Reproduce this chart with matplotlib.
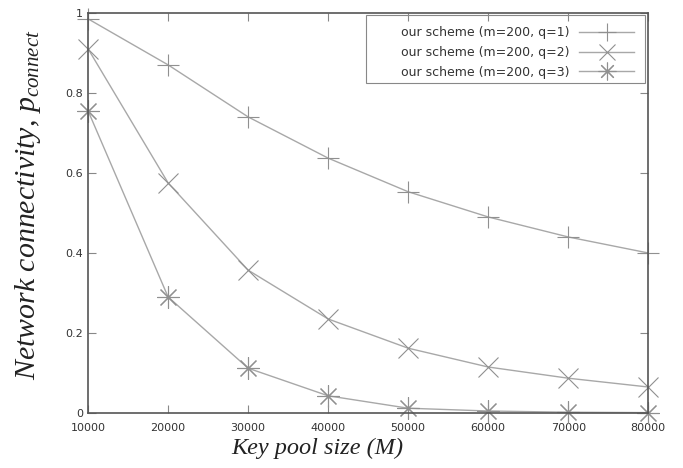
import numpy as np
import matplotlib.pyplot as plt
from matplotlib.patches import Rectangle

plt.rcParams["mathtext.fontset"] = "custom"
plt.rcParams["mathtext.it"] = "Liberation Serif:italic"
plt.rcParams["mathtext.rm"] = "Liberation Serif"

# Key pool sizes and connectivity values
pool_size = [10000, 20000, 30000, 40000, 50000, 60000, 70000, 80000]
q1 = [0.985, 0.87, 0.74, 0.637, 0.553, 0.49, 0.44, 0.40]
q2 = [0.91, 0.575, 0.357, 0.235, 0.162, 0.115, 0.087, 0.065]
q3 = [0.755, 0.29, 0.112, 0.043, 0.012, 0.005, 0.002, 0.001]

labels = ["our scheme (m=200, q=1)",
          "our scheme (m=200, q=2)",
          "our scheme (m=200, q=3)"]

fig = plt.figure(figsize=(6.83, 4.68), dpi=100)
ax = fig.add_axes([0.129, 0.1175, 0.820, 0.855])

line_col = "#a8a8a8"
mk_col = "#909090"
ax.plot(pool_size, q1, color=line_col, lw=1.0, marker="+", ms=16,
        mew=0.8, mec=mk_col, label=labels[0], clip_on=False)
ax.plot(pool_size, q2, color=line_col, lw=1.0, marker="x", ms=14,
        mew=0.8, mec=mk_col, label=labels[1], clip_on=False)
ax.plot(pool_size, q3, color=line_col, lw=1.0, marker=(8, 2, 0), ms=16,
        mew=0.8, mec=mk_col, label=labels[2], clip_on=False)

ax.set_xlim(10000, 80000)
ax.set_ylim(0, 1)
ax.set_xticks(pool_size)
ax.set_yticks([0, 0.2, 0.4, 0.6, 0.8, 1])
ax.set_yticklabels(["0", "0.2", "0.4", "0.6", "0.8", "1"])
ax.tick_params(direction="in", top=True, right=True, length=6,
               width=0.8, color="#888888", labelsize=8, labelcolor="#333333")
ax.tick_params(axis="x", pad=7)
for s in ax.spines.values():
    s.set_color("#555555")
    s.set_linewidth(1.2)

ax.set_xlabel("Key pool size (M)", family="Liberation Serif", style="italic",
              size=17.5, color="#222222")
ax.xaxis.set_label_coords(0.41, -0.062)
ax.set_ylabel("Network connectivity, $p_{connect}$", family="Liberation Serif",
              style="italic", size=21.5, color="#222222")
ax.yaxis.set_label_coords(-0.08, 0.52)

# gnuplot-style key: wide box with the entries pushed to the right
ax.add_patch(Rectangle((0.496, 0.825), 0.499, 0.17, transform=ax.transAxes,
                       fill=False, edgecolor="#888888", lw=0.8, zorder=4))
leg = ax.legend(loc="upper right", bbox_to_anchor=(0.975, 0.967),
                markerfirst=False, fontsize=9, frameon=False,
                borderaxespad=0.0, borderpad=0.0, handlelength=4.4,
                labelspacing=0.55, markerscale=0.8)
for t in leg.get_texts():
    t.set_color("#333333")

fig.savefig("out.png", dpi=100)
